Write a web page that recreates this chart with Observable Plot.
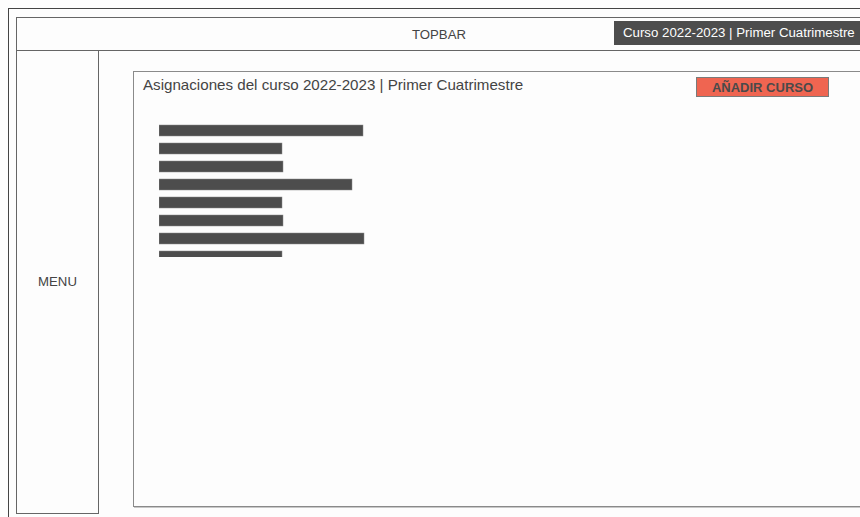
<!DOCTYPE html>
<html>
<head>
<meta charset="utf-8">
<script src="https://cdn.jsdelivr.net/npm/d3@7"></script>
<script src="https://cdn.jsdelivr.net/npm/@observablehq/plot@0.6"></script>
<style>
  html, body { margin: 0; padding: 0; }
  body { width: 860px; height: 517px; overflow: hidden; position: relative; background: #fdfdfd;
         font-family: "Liberation Sans", Arial, sans-serif; color: #444; }
  .abs { position: absolute; box-sizing: border-box; }
  #outer { left: 8px; top: 8px; width: 900px; height: 600px; border-left: 1px solid #444; border-top: 1px solid #444; }
  #topbar { left: 16px; top: 17px; width: 900px; height: 34px; border: 1px solid #666; }
  #menu { left: 16px; top: 50px; width: 83px; height: 464px; border: 1px solid #666; }
  #topbar-label { left: 16px; top: 17px; width: 846px; height: 34px; line-height: 35px; text-align: center; font-size: 13.2px; color: #444; }
  #menu-label { left: 16px; top: 274px; width: 83px; text-align: center; font-size: 13.2px; color: #444; }
  #curso { left: 614px; top: 21px; width: 260px; height: 24px; background: #4d4d4d; color: #fff;
           font-size: 13.25px; line-height: 24px; padding-left: 9px; white-space: nowrap; }
  #panel { left: 133px; top: 71px; width: 800px; height: 436px; border: 1px solid #8a8a8a;
           box-shadow: 1px 1px 0 #c8c8c8; background: #fdfdfd; }
  #title { left: 143px; top: 75.5px; font-size: 15.15px; color: #444; white-space: nowrap; }
  #btn { left: 696px; top: 77px; width: 133px; height: 20px; background: #ef6551; border: 1px solid #7a7a7a;
         font-size: 13px; font-weight: bold; color: #4a4a4a; text-align: center; line-height: 19px; }
  #chart { left: 159px; top: 119.6px; width: 260px; height: 137px; overflow: hidden; }
</style>
</head>
<body>
<div class="abs" id="outer"></div>
<div class="abs" id="topbar"></div>
<div class="abs" id="menu"></div>
<div class="abs" id="topbar-label">TOPBAR</div>
<div class="abs" id="menu-label">MENU</div>
<div class="abs" id="curso">Curso 2022-2023 | Primer Cuatrimestre</div>
<div class="abs" id="panel"></div>
<div class="abs" id="title">Asignaciones del curso 2022-2023 | Primer Cuatrimestre</div>
<div class="abs" id="btn">AÑADIR CURSO</div>
<div class="abs" id="chart"></div>
<script>
// Placeholder assignment rows as drawn in the wireframe
const asignaturas = ["Asignatura 1", "Asignatura 2", "Asignatura 3", "Asignatura 4",
                     "Asignatura 5", "Asignatura 6", "Asignatura 7", "Asignatura 8"];
const valores = [204, 123, 124, 193, 123, 124, 205, 123];

const rows = asignaturas.map((a, i) => ({asignatura: a, valor: valores[i]}));

const chart = Plot.plot({
  width: 260,
  height: 146,
  marginTop: 0, marginRight: 0, marginBottom: 0, marginLeft: 0,
  style: {background: "transparent", overflow: "visible"},
  x: {domain: [0, 260], axis: null},
  y: {domain: asignaturas, paddingInner: 0.41, paddingOuter: 0.205, axis: null},
  marks: [
    Plot.barX(rows, {x: "valor", y: "asignatura", fill: "#4d4d4d", stroke: "#8a8a8a", strokeWidth: 0.5})
  ]
});
document.getElementById("chart").appendChild(chart);
</script>
</body>
</html>
